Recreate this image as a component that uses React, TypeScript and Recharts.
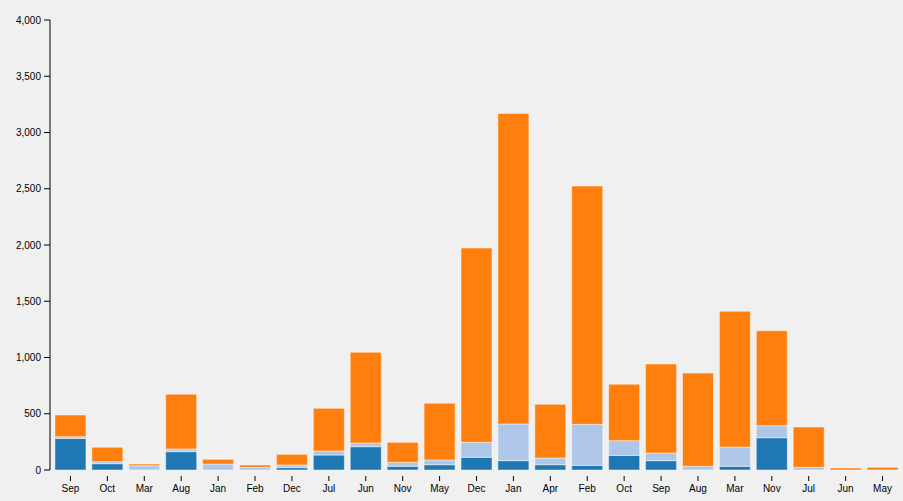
import { BarChart, Bar, XAxis, YAxis } from "recharts";

const months = ["Sep", "Oct", "Mar", "Aug", "Jan", "Feb", "Dec", "Jul", "Jun", "Nov", "May", "Dec", "Jan", "Apr", "Feb", "Oct", "Sep", "Aug", "Mar", "Nov", "Jul", "Jun", "May"];
const darkBlue = [281, 56, 0, 163, 0, 0, 21, 133, 207, 33, 47, 113, 83, 47, 41, 130, 83, 0, 33, 287, 0, 0, 0];
const lightBlue = [15, 18, 38, 24, 53, 24, 23, 36, 33, 35, 42, 133, 326, 60, 365, 131, 68, 33, 171, 107, 24, 0, 0];
const orange = [193, 128, 15, 486, 42, 20, 95, 379, 806, 178, 504, 1727, 2761, 477, 2118, 501, 791, 829, 1207, 844, 358, 18, 24];
const yTicks = [0, 500, 1000, 1500, 2000, 2500, 3000, 3500, 4000];

const data = months.map((m, i) => ({
  id: i,
  month: m,
  a: darkBlue[i],
  b: lightBlue[i],
  c: orange[i],
}));

const XTick = (props: any) => {
  const { x, y, payload } = props;
  return (
    <g>
      <line x1={x} x2={x} y1={y + 6} y2={y + 11} stroke="#000" />
      <text x={x} y={y + 22} textAnchor="middle" fontSize={10} fill="#000">
        {months[payload.value]}
      </text>
    </g>
  );
};

const barStroke = "rgba(255,255,255,0.45)";

export default function App() {
  return (
    <div style={{ position: "absolute", left: 0, top: 0, width: 903, height: 501, background: "#f0f0f0", fontFamily: "Arial, 'Liberation Sans', sans-serif" }}>
      <BarChart
        width={903}
        height={501}
        data={data}
        margin={{ top: 20, right: 2, bottom: 1, left: 0 }}
        barCategoryGap="8%"
      >
        <XAxis
          dataKey="id"
          axisLine={false}
          tickLine={false}
          tickSize={0}
          tickMargin={0}
          height={30}
          interval={0}
          padding={{ left: 2, right: 0 }}
          tick={<XTick />}
        />
        <YAxis
          width={50}
          domain={[0, 4000]}
          ticks={yTicks}
          interval={0}
          axisLine={{ stroke: "#000" }}
          tickLine={{ stroke: "#000" }}
          tickSize={6}
          tickMargin={3}
          tickFormatter={(v: number) => v.toLocaleString("en-US")}
          tick={{ fontSize: 10, fill: "#000" }}
        />
        <Bar dataKey="a" stackId="s" fill="#1f77b4" stroke={barStroke} isAnimationActive={false} />
        <Bar dataKey="b" stackId="s" fill="#aec7e8" stroke={barStroke} isAnimationActive={false} />
        <Bar dataKey="c" stackId="s" fill="#ff7f0e" stroke={barStroke} isAnimationActive={false} />
      </BarChart>
    </div>
  );
}
